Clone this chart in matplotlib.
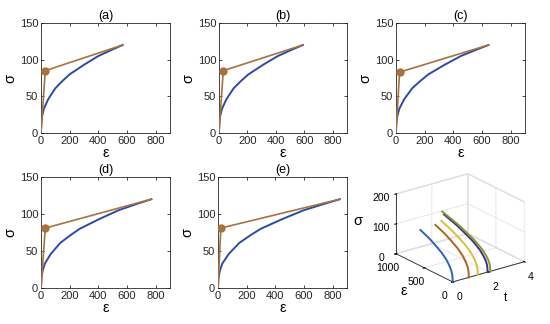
import matplotlib
matplotlib.use('Agg')
import matplotlib.pyplot as plt

plt.rcParams['font.family'] = ['Liberation Sans', 'DejaVu Sans']

# ---------------- data ----------------
titles = ['(a)', '(b)', '(c)', '(d)', '(e)']

sigma_curve = [0, 13, 23, 33, 46, 61, 71, 80, 93, 105, 114, 120]
eps_a = [0, 2, 8, 20, 50, 100, 150, 200, 300, 400, 500, 570]
eps_b = [0, 2, 8, 21, 52, 103, 155, 207, 310, 414, 517, 590]
eps_c = [0, 2, 9, 23, 57, 113, 170, 226, 339, 453, 566, 645]
eps_d = [0, 3, 11, 27, 68, 135, 203, 270, 405, 540, 675, 770]
eps_e = [0, 3, 12, 30, 75, 149, 224, 298, 447, 597, 746, 850]
eps_curves = [eps_a, eps_b, eps_c, eps_d, eps_e]

knee_eps = [30, 30, 25, 30, 20]
knee_sigma = [85, 85, 83, 81, 81]
end_eps = [570, 590, 645, 770, 850]
end_sigma = [120, 120, 120, 120, 120]

t_vals = [0, 0.9, 1.4, 1.95, 2.1]

x_ticks = [0, 200, 400, 600, 800]
y_ticks = [0, 50, 100, 150]

# ---------------- styles ----------------
blue = '#2c4aa6'
brown = '#a9713c'
colors3d = ['#2f62b8', '#b0621f', '#d6c233', '#4a2e86', '#7d9c2e']

W, H = 550, 324
fig = plt.figure(figsize=(W / 100, H / 100), dpi=100)

def rect(l, t, r, b):
    return [l / W, 1 - b / H, (r - l) / W, (b - t) / H]

rects = [rect(41, 23, 170, 133), rect(219, 23, 347, 133), rect(396, 23, 525, 133),
         rect(41, 177, 170, 288), rect(218, 177, 347, 288)]

# ---------------- 3D panel (drawn first, transparent background) ----------------
ax3 = fig.add_axes(rect(368, 150, 548, 310), projection='3d')
ax3.patch.set_alpha(0)
ax3.set_proj_type('ortho')
for i in range(5):
    ax3.plot([t_vals[i]] * len(eps_curves[i]), eps_curves[i], sigma_curve,
             color=colors3d[i], lw=1.4)
ax3.set_xlim(0, 4)
ax3.set_ylim(0, 1000)
ax3.set_zlim(0, 200)
ax3.set_xticks([0, 2, 4])
ax3.set_yticks([0, 500, 1000])
ax3.set_zticks([0, 100, 200])
ax3.view_init(elev=22, azim=-127)
ax3.set_box_aspect((1, 1.05, 0.72), zoom=0.88)
for axis in (ax3.xaxis, ax3.yaxis, ax3.zaxis):
    axis.set_pane_color((1, 1, 1, 1))
    axis.pane.set_edgecolor('#d9d9d9')
    axis._axinfo['grid']['color'] = '#e3e3e3'
    axis._axinfo['grid']['linewidth'] = 0.6
    axis.line.set_color('#262626')
    axis.line.set_linewidth(0.6)
ax3.tick_params(labelsize=7.5, pad=-1)
ax3.set_xlabel('t', fontsize=8.5, labelpad=-3)
ax3.set_ylabel('ε', fontsize=10.5, labelpad=-4)
ax3.set_zlabel('σ', fontsize=10.5, labelpad=-3)

# ---------------- 2D panels ----------------
for i in range(5):
    ax = fig.add_axes(rects[i])
    ax.plot(eps_curves[i], sigma_curve, color=blue, lw=1.4, zorder=2)
    ax.plot([0, knee_eps[i], end_eps[i]], [0, knee_sigma[i], end_sigma[i]],
            color=brown, lw=1.2, zorder=3)
    ax.plot([knee_eps[i]], [knee_sigma[i]], 'o', color=brown, ms=5, zorder=4)
    ax.set_xlim(0, 900)
    ax.set_ylim(0, 150)
    ax.set_xticks(x_ticks)
    ax.set_yticks(y_ticks)
    ax.tick_params(direction='in', top=True, right=True, length=2.5, width=0.6,
                   labelsize=8, pad=2, colors='#262626')
    for s in ax.spines.values():
        s.set_linewidth(0.6)
        s.set_color('#262626')
    ax.set_title(titles[i], fontsize=9, pad=3)
    ax.set_xlabel('ε', fontsize=10.5, labelpad=0)
    ax.set_ylabel('σ', fontsize=10.5, labelpad=2)

fig.savefig('out.png', dpi=100)
